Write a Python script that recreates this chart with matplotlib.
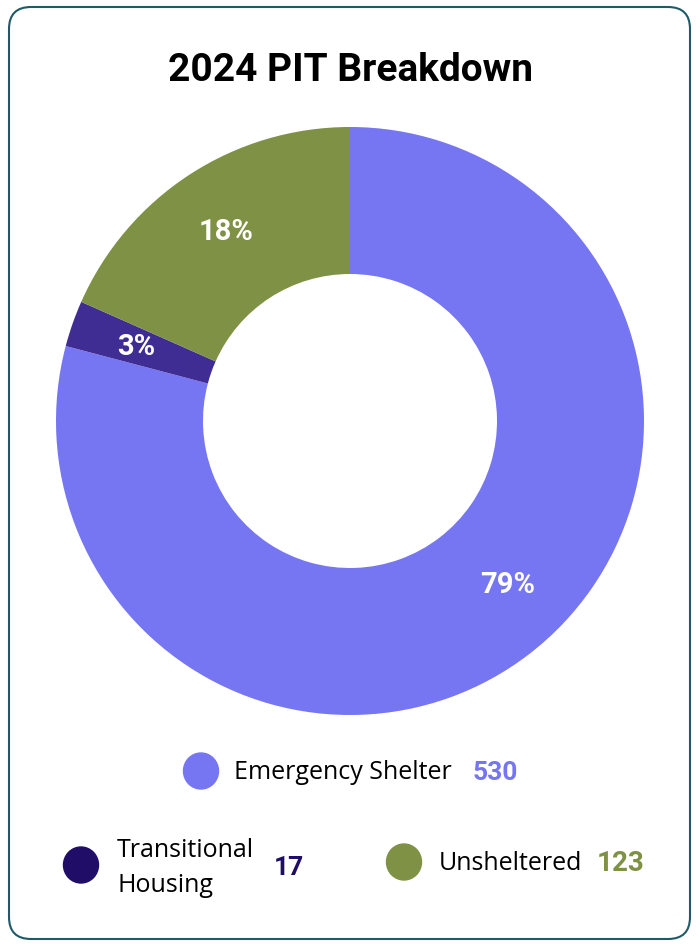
import matplotlib
matplotlib.use('Agg')
import numpy as np
import matplotlib.pyplot as plt
from matplotlib.patches import Ellipse, FancyBboxPatch

# data
categories = ['Emergency Shelter', 'Transitional Housing', 'Unsheltered']
counts = [530, 17, 123]
wedge_colors = ['#7676f2', '#3f2d94', '#7e9144']
legend_colors = ['#7676f2', '#1f0d68', '#7e9144']

title = '2024 PIT Breakdown'

plt.rcParams['font.family'] = ['Roboto', 'DejaVu Sans']
LBL = ['Open Sans', 'DejaVu Sans']

fig = plt.figure(figsize=(7, 9.45), dpi=100)
W, H = 700, 945

# overlay axes in pixel units for border + legend
bg = fig.add_axes([0, 0, 1, 1])
bg.set_xlim(0, W)
bg.set_ylim(H, 0)
bg.axis('off')
border = FancyBboxPatch((9, 8), 681, 932, boxstyle='round,pad=0,rounding_size=22',
                        fc='white', ec='#1f5a66', lw=1.5)
bg.add_patch(border)

bg.text(W / 2, 81, title, ha='center', va='baseline', fontsize=28,
        fontweight='bold', color='black')

# donut
cx, cy, r = 350, 422, 294
ax = fig.add_axes([(cx - r) / W, (H - cy - r) / H, 2 * r / W, 2 * r / H])
total = sum(counts)
wedges, texts, autotexts = ax.pie(
    counts, colors=wedge_colors, startangle=90, counterclock=False,
    radius=1, wedgeprops=dict(width=0.5, linewidth=0),
    autopct=lambda p: '%d%%' % round(p), pctdistance=0.77,
    textprops=dict(color='white', fontsize=21, fontweight='bold'))
# big slice label sits a bit higher in the original
a = np.deg2rad(90 - 136)
autotexts[0].set_position((0.77 * np.cos(a), 0.77 * np.sin(a)))
ax.set_xlim(-1, 1)
ax.set_ylim(-1, 1)
ax.set_aspect('equal')

# legend
def dot(x, y, c):
    bg.add_patch(Ellipse((x, y), 35, 36, color=c, zorder=3))

dot(201, 772, legend_colors[0])
bg.text(234, 779, categories[0], fontsize=18, va='baseline', ha='left',
        color='black', family=LBL)
bg.text(473, 780, str(counts[0]), fontsize=19, fontweight='bold', va='baseline',
        ha='left', color=legend_colors[0])

dot(81, 866, legend_colors[1])
bg.text(117, 857, 'Transitional', fontsize=18, va='baseline', ha='left',
        color='black', family=LBL)
bg.text(117, 892, 'Housing', fontsize=18, va='baseline', ha='left',
        color='black', family=LBL)
bg.text(274, 875, str(counts[1]), fontsize=19, fontweight='bold', va='baseline',
        ha='left', color=legend_colors[1])

dot(404, 863, legend_colors[2])
bg.text(439, 870, categories[2], fontsize=18, va='baseline', ha='left',
        color='black', family=LBL)
bg.text(597, 871, str(counts[2]), fontsize=20, fontweight='bold', va='baseline',
        ha='left', color=legend_colors[2])

fig.savefig('out.png', dpi=100)
